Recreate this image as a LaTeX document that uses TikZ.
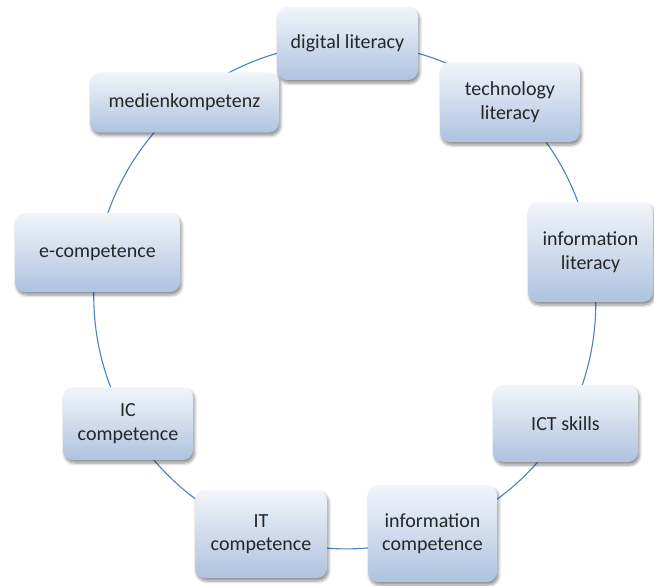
\documentclass[tikz,border=0pt]{standalone}
\usepackage{fontspec}
\setmainfont{Carlito}
\usetikzlibrary{shadows.blur,backgrounds}
\definecolor{topc}{HTML}{F2F5FA}
\definecolor{botc}{HTML}{AEC3E0}
\definecolor{linec}{HTML}{4F81BD}
\definecolor{txtc}{HTML}{262626}
\tikzset{
  boxnode/.style={rounded corners=10pt, top color=topc, bottom color=botc,
    draw=none, align=center, text=txtc, inner sep=0pt,
    font=\fontsize{20}{23.5}\selectfont,
    blur shadow={shadow xshift=1.5pt, shadow yshift=-3pt, shadow opacity=45, shadow blur steps=6, shadow blur radius=3pt}},
  conn/.style={draw=linec, line width=1.1pt, bend left=20, looseness=0.88}
}
\begin{document}
\begin{tikzpicture}[x=1pt,y=-1pt]
\useasboundingbox (0,0) rectangle (654,586);
\node[boxnode, minimum width=141pt, minimum height=73pt] (dl) at (347.5,43.5) {digital literacy};
\node[boxnode, minimum width=140pt, minimum height=80pt] (tl) at (510,102) {technology\\literacy};
\node[boxnode, minimum width=125pt, minimum height=100pt] (il) at (590.5,252) {information\\literacy};
\node[boxnode, minimum width=145pt, minimum height=77pt] (ict) at (565.5,423.5) {ICT skills};
\node[boxnode, minimum width=129pt, minimum height=97pt] (ic) at (432.5,533.5) {information\\competence};
\node[boxnode, minimum width=132pt, minimum height=88pt] (itc) at (261,534) {IT\\competence};
\node[boxnode, minimum width=130pt, minimum height=73pt] (icc) at (128,423.5) {IC\\competence};
\node[boxnode, minimum width=165pt, minimum height=79pt] (ec) at (97.5,252.5) {e-competence};
\node[boxnode, minimum width=189pt, minimum height=60pt] (mk) at (184.5,102.5) {medienkompetenz};
\begin{scope}[on background layer]
\draw[conn] (dl.center) to (tl.center);
\draw[conn] (tl.center) to (il.center);
\draw[conn] (il.center) to (ict.center);
\draw[conn] (ict.center) to (ic.center);
\draw[conn] (ic.center) to (itc.center);
\draw[conn] (itc.center) to (icc.center);
\draw[conn] (icc.center) to (ec.center);
\draw[conn] (ec.center) to (mk.center);
\draw[conn] (mk.center) to (dl.center);
\end{scope}
\end{tikzpicture}
\end{document}
